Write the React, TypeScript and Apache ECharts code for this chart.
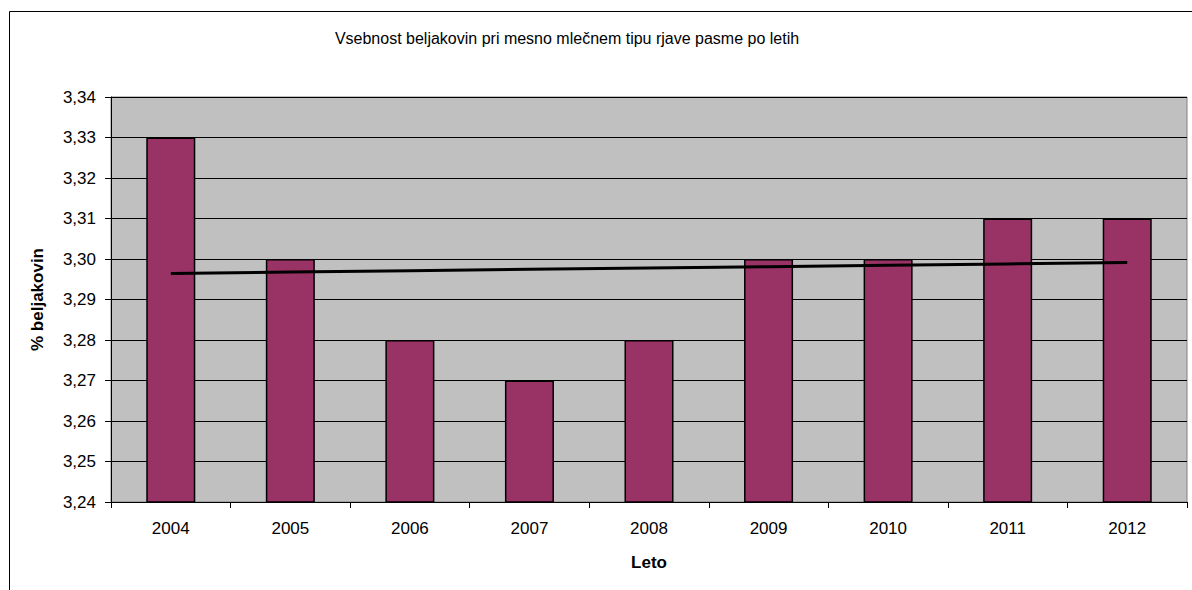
import React, { useEffect, useRef } from "react";
import * as echarts from "echarts";

const categories = ["2004", "2005", "2006", "2007", "2008", "2009", "2010", "2011", "2012"];
const proteinValues = [3.33, 3.30, 3.28, 3.27, 3.28, 3.30, 3.30, 3.31, 3.31];
const yTicks = [3.24, 3.25, 3.26, 3.27, 3.28, 3.29, 3.30, 3.31, 3.32, 3.33, 3.34];

const titleText = "Vsebnost beljakovin pri mesno mlečnem tipu rjave pasme po letih";
const yName = "% beljakovin";
const xName = "Leto";

// Linear trendline (least squares) derived from the data, as in the original spreadsheet chart
function linearTrend(values: number[]): number[] {
  const n = values.length;
  const xs = values.map((_, i) => i + 1);
  const mx = xs.reduce((a, b) => a + b, 0) / n;
  const my = values.reduce((a, b) => a + b, 0) / n;
  let num = 0;
  let den = 0;
  for (let i = 0; i < n; i++) {
    num += (xs[i] - mx) * (values[i] - my);
    den += (xs[i] - mx) * (xs[i] - mx);
  }
  const slope = num / den;
  const intercept = my - slope * mx;
  return xs.map((x) => intercept + slope * x);
}

const FONT = "'Liberation Sans', Arial, sans-serif";

export default function App() {
  const ref = useRef<HTMLDivElement>(null);

  useEffect(() => {
    if (!ref.current) return;
    const chart = echarts.init(ref.current, null, { renderer: "svg" });
    const trend = linearTrend(proteinValues);
    chart.setOption({
      animation: false,
      backgroundColor: "#ffffff",
      textStyle: { fontFamily: FONT },
      title: {
        text: titleText,
        left: 562,
        top: 25,
        textAlign: "center",
        textStyle: { fontFamily: FONT, fontSize: 16, fontWeight: "normal", color: "#000" },
      },
      graphic: [
        {
          type: "rect",
          silent: true,
          z: -10,
          shape: { x: 9.5, y: 11.5, width: 1400, height: 800 },
          style: { fill: "none", stroke: "#000", lineWidth: 1 },
        },
      ],
      grid: {
        left: 111,
        top: 97,
        right: 5,
        bottom: 88,
        show: true,
        backgroundColor: "#C0C0C0",
        borderColor: "#808080",
        borderWidth: 1,
      },
      xAxis: {
        type: "category",
        data: categories,
        name: xName,
        nameLocation: "middle",
        nameGap: 52,
        nameTextStyle: { fontFamily: FONT, fontSize: 17, fontWeight: "bold", color: "#000" },
        axisLine: { show: true, lineStyle: { color: "#000", width: 1 } },
        axisTick: { show: true, alignWithLabel: false, length: 6, lineStyle: { color: "#000" } },
        axisLabel: { fontFamily: FONT, fontSize: 17, color: "#000", margin: 18 },
        splitLine: { show: false },
      },
      yAxis: {
        type: "value",
        min: yTicks[0],
        max: yTicks[yTicks.length - 1],
        interval: 0.01,
        name: yName,
        nameLocation: "middle",
        nameGap: 65,
        nameRotate: 90,
        nameTextStyle: { fontFamily: FONT, fontSize: 17, fontWeight: "bold", color: "#000" },
        axisLine: { show: true, lineStyle: { color: "#000", width: 1 } },
        axisTick: { show: true, length: 6, lineStyle: { color: "#000" } },
        axisLabel: {
          fontFamily: FONT,
          fontSize: 17,
          color: "#000",
          margin: 15,
          formatter: (v: number) => v.toFixed(2).replace(".", ","),
        },
        splitLine: { show: true, lineStyle: { color: "#000", width: 1 } },
      },
      series: [
        {
          type: "bar",
          data: proteinValues,
          barWidth: "41%",
          itemStyle: { color: "#993366", borderColor: "#000", borderWidth: 1.5 },
          z: 2,
        },
        {
          type: "line",
          data: trend,
          symbol: "none",
          lineStyle: { color: "#000", width: 3 },
          z: 3,
          silent: true,
        },
      ],
    });
    return () => chart.dispose();
  }, []);

  return (
    <div
      ref={ref}
      style={{ position: "fixed", left: 0, top: 0, width: 1192, height: 590 }}
    />
  );
}
